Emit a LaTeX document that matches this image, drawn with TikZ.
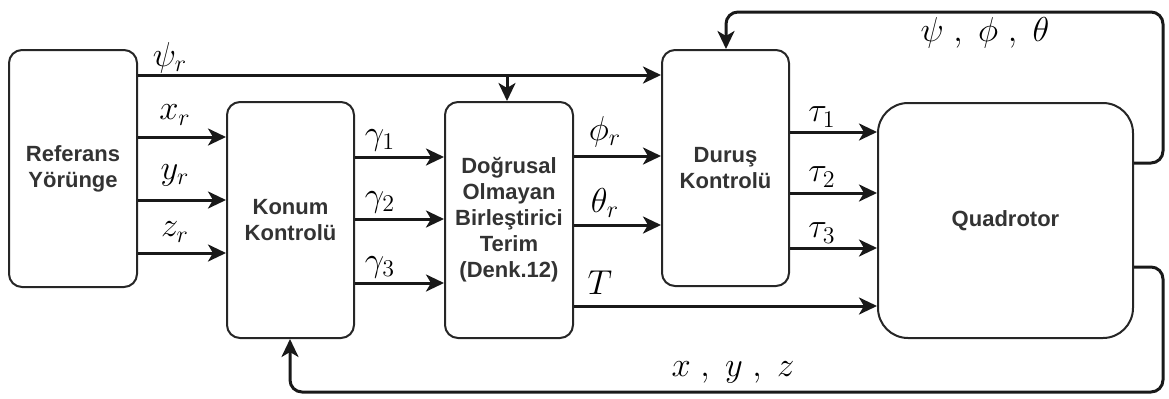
\documentclass[tikz,border=0pt]{standalone}
\usepackage{fontspec}
\setmainfont{Liberation Sans}
\usetikzlibrary{arrows.meta}
\begin{document}
\begin{tikzpicture}[x=0.5pt,y=-0.5pt,
 box/.style={draw=black!85, line width=1pt, rounded corners=6.5pt, align=center,
   font=\fontsize{11}{13}\selectfont\bfseries, text=black!80, inner sep=0pt},
 arr/.style={line width=1.5pt, draw=black!90, -{Stealth[length=9pt,width=8.5pt,inset=2.5pt]}},
 lab/.style={font=\fontsize{17}{19}\selectfont, inner sep=0pt}]
\useasboundingbox (0,0) rectangle (1169,398);
% boxes
\node[box, minimum width=64pt, minimum height=118.5pt] (ref) at (73,168.5) {Referans\\Yörünge};
\node[box, minimum width=63.5pt, minimum height=118pt] (kon) at (290.5,220) {Konum\\Kontrolü};
\node[box, minimum width=64pt, minimum height=118pt] (dog) at (509,220) {Doğrusal\\Olmayan\\Birleştirici\\Terim\\(Denk.12)};
\node[box, minimum width=63.5pt, minimum height=118pt] (dur) at (725.5,168) {Duruş\\Kontrolü};
\node[box, rounded corners=15pt, minimum width=127.5pt, minimum height=117.5pt] (quad) at (1005.5,220.5) {Quadrotor};
% reference psi
\coordinate (br) at (507,75);
\draw[arr] (ref.east |- 0,75) -- (dur.west |- 0,75);
\draw[arr] (br) -- (dog.north -| br);
% position references
\draw[arr] (ref.east |- 0,137) -- (kon.west |- 0,137);
\draw[arr] (ref.east |- 0,200) -- (kon.west |- 0,200);
\draw[arr] (ref.east |- 0,253) -- (kon.west |- 0,253);
% gammas
\draw[arr] (kon.east |- 0,157) -- (dog.west |- 0,157);
\draw[arr] (kon.east |- 0,219) -- (dog.west |- 0,219);
\draw[arr] (kon.east |- 0,283) -- (dog.west |- 0,283);
% phi theta T
\draw[arr] (dog.east |- 0,156) -- (dur.west |- 0,156);
\draw[arr] (dog.east |- 0,225) -- (dur.west |- 0,225);
\draw[arr] (dog.east |- 0,306) -- (quad.west |- 0,306);
% taus
\draw[arr] (dur.east |- 0,132) -- (quad.west |- 0,132);
\draw[arr] (dur.east |- 0,193) -- (quad.west |- 0,193);
\draw[arr] (dur.east |- 0,248) -- (quad.west |- 0,248);
% feedback
\coordinate (f1) at (1163,163);
\coordinate (f2) at (1163,12);
\coordinate (f3) at (726,12);
\draw[arr, rounded corners=6pt] (quad.east |- f1) -- (f1) -- (f2) -- (f3) -- (dur.north -| f3);
\coordinate (g1) at (1163,267);
\coordinate (g2) at (1163,392);
\coordinate (g3) at (290,392);
\draw[arr, rounded corners=6pt] (quad.east |- g1) -- (g1) -- (g2) -- (g3) -- (kon.south -| g3);
% labels
\node[lab] at (170,58) {$\psi_r$};
\node[lab] at (175,115) {$x_r$};
\node[lab] at (175,175) {$y_r$};
\node[lab] at (175,232) {$z_r$};
\node[lab] at (380,140) {$\gamma_1$};
\node[lab] at (380,202) {$\gamma_2$};
\node[lab] at (380,267) {$\gamma_3$};
\node[lab] at (605,132) {$\phi_r$};
\node[lab] at (605,203) {$\theta_r$};
\node[lab] at (600,283) {$T$};
\node[lab] at (822,117) {$\tau_1$};
\node[lab] at (822,177) {$\tau_2$};
\node[lab] at (822,233) {$\tau_3$};
\node[lab] at (985,33) {$\psi\;,\;\phi\;,\;\theta$};
\node[lab] at (733,372) {$x\;,\;y\;,\;z$};
\end{tikzpicture}
\end{document}
